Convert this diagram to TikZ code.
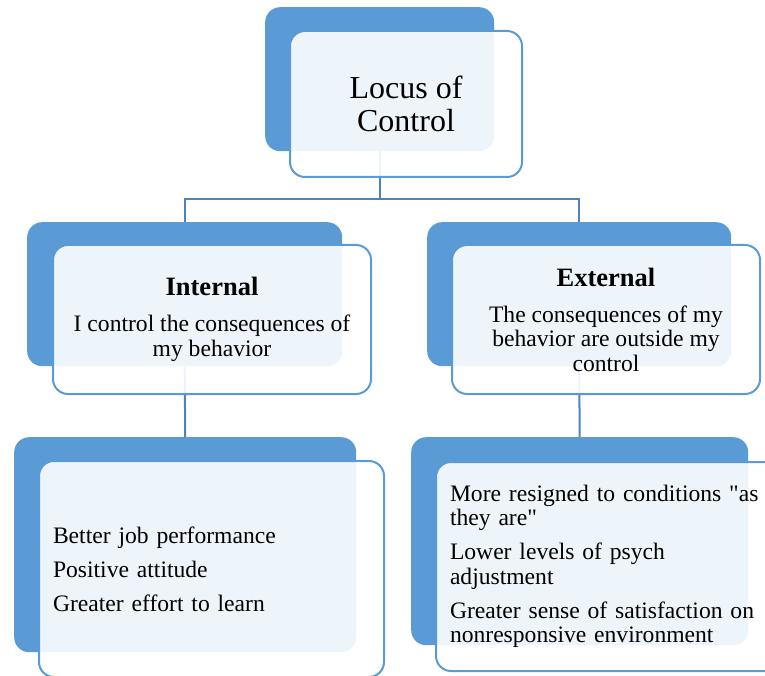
\documentclass[tikz,border=0pt]{standalone}
\usepackage{fontspec}
\setmainfont{Liberation Serif}
\newfontfamily\qfont{Liberation Serif}[Ligatures=ResetAll]
\newcommand{\sq}{{\qfont"}}
\definecolor{accent}{HTML}{5B9BD5}
\definecolor{conn}{HTML}{4F81BD}
\tikzset{
  back/.style={anchor=north west, fill=accent, rounded corners=15pt, inner sep=0pt},
  front/.style={anchor=north west, draw=accent, line width=2pt, fill=white, fill opacity=0.9, text opacity=1, rounded corners=15pt, inner sep=0pt, align=center},
  link/.style={draw=conn, line width=2pt},
  body/.style={font=\fontsize{23.6}{24.5}\selectfont},
}
\begin{document}
\begin{tikzpicture}[x=1pt,y=-1pt]
\useasboundingbox (0,0) rectangle (765,676);
\clip (0,0) rectangle (765,676);
% back blue boxes
\node[back, minimum width=229pt, minimum height=144pt] (tb) at (265,7) {};
\node[back, minimum width=315pt, minimum height=144pt] (ib) at (27,222) {};
\node[back, minimum width=304pt, minimum height=144pt] (eb) at (427,222) {};
\node[back, minimum width=342pt, minimum height=215pt] (lb) at (14,437) {};
\node[back, minimum width=337pt, minimum height=208pt] (rb) at (411,437) {};
% connectors
\coordinate (hy) at (0,199);
\draw[link] (tb.south) -- (tb.south |- hy) -| (ib.north);
\draw[link] (tb.south |- hy) -| (eb.north);
\draw[link] (ib.south) -- (lb.north);
\draw[link] (eb.south) -- (rb.north);
% front boxes
\node[front, minimum width=232pt, minimum height=146pt, font=\fontsize{32}{33}\selectfont] (t) at (289,30) {Locus of\\Control};
\node[front, body, minimum width=318pt, minimum height=149pt] (i) at (52,244)
  {{\fontsize{26.5}{24.5}\selectfont\bfseries Internal}\\[11.5pt]I control the consequences of\\my behavior};
\node[front, body, minimum width=308pt, minimum height=149pt] (e) at (451,244)
  {{\fontsize{26.5}{24.5}\selectfont\bfseries External}\\[11.5pt]The consequences of my\\behavior are outside my\\control};
\node[front, body, minimum width=345pt, minimum height=216pt, inner xsep=14pt, text width=317pt, align=left] (l) at (38,460)
  {Better job performance\\[9.5pt]Positive attitude\\[9.5pt]Greater effort to learn};
\node[front, body, minimum width=340pt, minimum height=209pt, inner xsep=14pt, text width=330pt, align=left] (r) at (435,461)
  {More resigned to conditions \sq as\\they are\sq\\[9.5pt]Lower levels of psych\\adjustment\\[9.5pt]Greater sense of satisfaction on\\nonresponsive environment};
\end{tikzpicture}
\end{document}
